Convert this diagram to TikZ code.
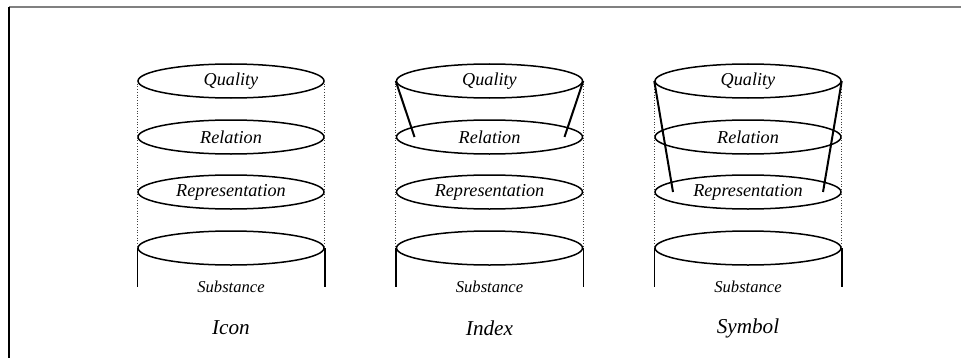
\documentclass[tikz,border=0pt]{standalone}
\usepackage{fontspec}
\setmainfont{Liberation Serif}
\usetikzlibrary{calc,shapes}

\begin{document}
\begin{tikzpicture}[x=0.5pt,y=-0.5pt]
  \tikzset{layer/.style={draw,ellipse,line width=0.75pt,minimum width=93pt,
      minimum height=17pt,inner sep=0pt,font=\fontsize{9.1}{11}\selectfont\itshape},
    guide/.style={densely dotted,black!75,line width=0.35pt},
    link/.style={line width=1pt}}
  \useasboundingbox (0,0) rectangle (961,358);

  %% Frame
  \coordinate (TL) at (9,7);
  \coordinate (TR) at (961,7);
  \coordinate (BL) at (9,358);
  \draw[gray,line width=0.6pt] (TL) -- (TR);
  \draw[line width=0.7pt] (TL) -- (BL);

  %% Building the four layers of each cylinder
  \foreach \i/\x/\kind in {1/231/Icon,2/489.5/Index,3/748/Symbol}
  {
    \node[layer] (Q\i) at (\x,81)  {Quality};
    \node[layer] (R\i) at (\x,137) {Relation};
    \node[layer] (P\i) at (\x,192) {Representation};
    \node[layer] (S\i) at (\x,248) {};
    \coordinate (SL\i) at ($(S\i.west)+(0,39)$);
    \coordinate (SR\i) at ($(S\i.east)+(0,39)$);
    \draw[line width=0.75pt] (S\i.west) -- (SL\i);
    \draw[line width=0.75pt] (S\i.east) -- (SR\i);
    \node[font=\fontsize{8.3}{10}\selectfont\itshape] (T\i) at (\x,287) {Substance};
    \node[font=\fontsize{10.6}{13}\selectfont\itshape] (K\i) at (\x,328) {\kind};
    \draw[guide] (Q\i.west) -- (S\i.west);
    \draw[guide] (Q\i.east) -- (S\i.east);
  }

  %% Index: quality reaches down to relation
  \coordinate (IL) at ($(R2.west)!0.1!(R2.east)$);
  \coordinate (IR) at ($(R2.east)!0.1!(R2.west)$);
  \draw[link] (Q2.west) -- (IL);
  \draw[link] (Q2.east) -- (IR);

  %% Symbol: quality reaches down to representation
  \coordinate (YL) at ($(P3.west)!0.1!(P3.east)$);
  \coordinate (YR) at ($(P3.east)!0.1!(P3.west)$);
  \draw[link] (Q3.west) -- (YL);
  \draw[link] (Q3.east) -- (YR);

\end{tikzpicture}
\end{document}
